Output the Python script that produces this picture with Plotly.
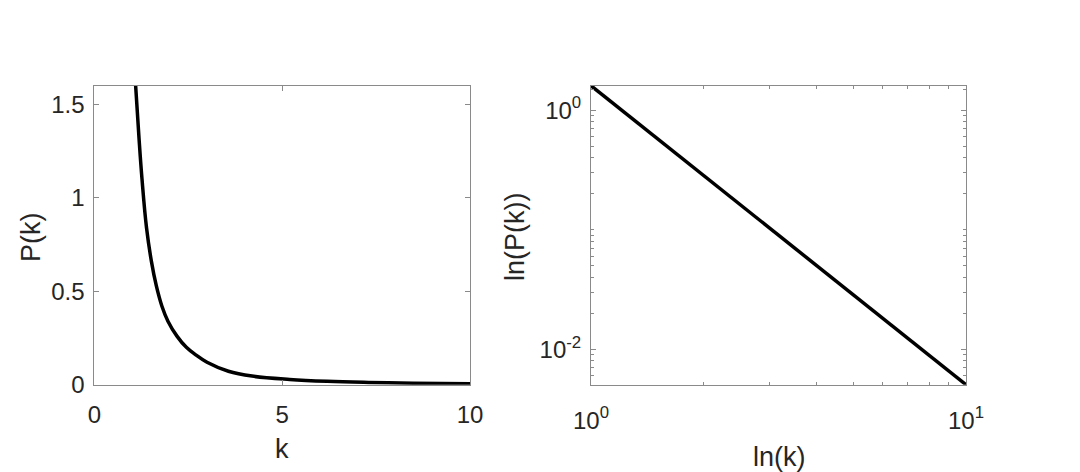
import plotly.graph_objects as go

# Left panel: P(k) vs k
k_left = [1.10, 1.19, 1.27, 1.39, 1.52, 1.65, 1.80, 1.96, 2.20, 2.45, 2.70, 3.00, 3.57, 4.20, 5.20, 6.20, 7.30, 8.50, 10.0]
p_left = [1.60, 1.32, 1.10, 0.84, 0.66, 0.53, 0.42, 0.34, 0.26, 0.20, 0.16, 0.12, 0.072, 0.046, 0.028, 0.018, 0.012, 0.008, 0.005]

# Right panel: log-log straight line
k_right = [1.0, 10.0]
p_right = [1.6, 0.00506]

left_xticks = [0, 5, 10]
left_yticks = [0, 0.5, 1, 1.5]
right_xticks = [1, 10]
right_xlabels = ["10<sup>0</sup>", "10<sup>1</sup>"]
right_yticks = [0.01, 1]
right_ylabels = ["10<sup>-2</sup>", "10<sup>0</sup>"]
right_xminor = [2, 3, 4, 5, 6, 7, 8, 9]
right_yminor = [0.006, 0.007, 0.008, 0.009, 0.02, 0.03, 0.04, 0.05, 0.06, 0.07, 0.08, 0.09,
                0.1, 0.2, 0.3, 0.4, 0.5, 0.6, 0.7, 0.8, 0.9, 1.5]

FONT = "Liberation Sans, Arial, Helvetica, sans-serif"
TXT = "#262626"
AX = "#8a8a8a"
W, H, OFF = 1080, 472, 8  # page body margin offset


def px_x(p):
    return (p - OFF) / W


def px_y(p):
    return 1 - (p - OFF) / H


fig = go.Figure()
fig.add_trace(go.Scatter(x=k_left, y=p_left, mode="lines",
                         line=dict(color="black", width=3.5, shape="spline", smoothing=1.1),
                         xaxis="x", yaxis="y", showlegend=False))
fig.add_trace(go.Scatter(x=k_right, y=p_right, mode="lines",
                         line=dict(color="black", width=3.5),
                         xaxis="x2", yaxis="y2", showlegend=False))

common = dict(showgrid=False, zeroline=False, showline=True, linecolor=AX, linewidth=1,
              mirror="ticks", ticks="inside", tickcolor=AX, ticklen=5, tickwidth=1,
              tickfont=dict(family=FONT, size=24, color=TXT), automargin=False)

ydom = [px_y(384.7), px_y(85.7)]

fig.update_layout(
    width=W, height=H, autosize=False,
    margin=dict(l=0, r=0, t=0, b=0),
    paper_bgcolor="white", plot_bgcolor="white",
    xaxis=dict(domain=[px_x(94.3), px_x(470)], range=[0, 10], tickmode="array",
               tickvals=left_xticks, ticklabelstandoff=8, anchor="y", **common),
    yaxis=dict(domain=ydom, range=[0, 1.6], tickmode="array",
               tickvals=left_yticks, ticklabelstandoff=4, anchor="x", **common),
    xaxis2=dict(domain=[px_x(591), px_x(966)], type="log", range=[0, 1], tickmode="array",
                tickvals=right_xticks, ticktext=right_xlabels, ticklabelstandoff=14, anchor="y2",
                minor=dict(tickmode="array", tickvals=right_xminor, ticks="inside",
                           ticklen=3, tickcolor=AX, showgrid=False),
                **common),
    yaxis2=dict(domain=ydom, type="log", range=[-2.296, 0.204], tickmode="array",
                tickvals=right_yticks, ticktext=right_ylabels, ticklabelstandoff=4, anchor="x2",
                minor=dict(tickmode="array", tickvals=right_yminor, ticks="inside",
                           ticklen=3, tickcolor=AX, showgrid=False),
                **common),
)

labels = [("k", 282, 449, 0), ("P(k)", 31, 237, -90), ("ln(k)", 779, 457, 0), ("ln(P(k))", 515, 237, -90)]
for text, x, y, ang in labels:
    fig.add_annotation(text=text, x=px_x(x), y=px_y(y), xref="paper", yref="paper",
                       showarrow=False, textangle=ang, xanchor="center", yanchor="middle",
                       font=dict(family=FONT, size=27, color=TXT))

fig.write_html("out.html")
